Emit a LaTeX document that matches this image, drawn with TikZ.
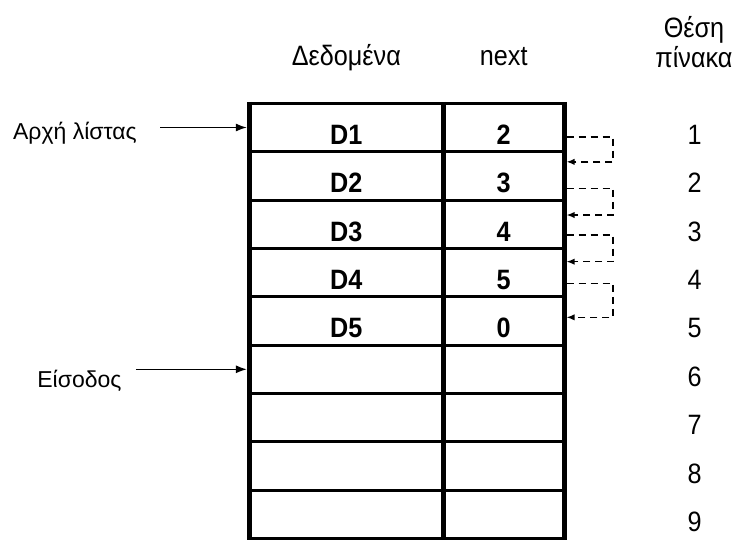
\documentclass[tikz,border=0pt]{standalone}
\usepackage{fontspec}
\setmainfont{Liberation Sans}[FakeStretch=0.9]
\newfontfamily\lblfont{Liberation Sans}
\usetikzlibrary{arrows.meta}
\tikzset{cell/.style={draw, line width=1.5pt, inner sep=0pt, outer sep=0pt, minimum height=24.18pt, text height=17pt, text depth=0pt, font=\fontsize{14}{15}\selectfont\bfseries},
  rownum/.style={inner sep=0pt, text height=17pt, text depth=0pt, font=\fontsize{14}{15}\selectfont},
  hdr/.style={inner sep=0pt, font=\fontsize{14}{15}\selectfont},
  lbl/.style={inner sep=0pt, font=\lblfont\fontsize{11.5}{13}\selectfont},
  ptr/.style={-{Latex[length=5.5pt,width=4pt]}, line width=0.75pt, shorten >=1.2pt},
  nextptr/.style={-{Latex[length=4pt,width=3.2pt]}, line width=0.7pt, dash pattern=on 3.5pt off 2.5pt, shorten <=1.2pt, shorten >=1.2pt},
  colline/.style={line width=2.4pt, shorten <=-0.75pt, shorten >=-0.75pt}}

\begin{document}
\begin{tikzpicture}[x=0.5pt, y=-0.5pt]
\useasboundingbox (0,0) rectangle (735,540);
% table rows: data / next / position
\foreach \i/\d/\n in {1/D1/2, 2/D2/3, 3/D3/4, 4/D4/5, 5/D5/0, 6//, 7//, 8//, 9//} {
  \node[cell, minimum width=97pt] (d\i) at (346.3, 79.14+48.36*\i) {\d};
  \node[cell, minimum width=60.45pt] (n\i) at (503.75, 79.14+48.36*\i) {\n};
  \node[rownum] (p\i) at ([xshift=95.4pt]n\i.center) {\i};
}
\draw[colline] (d1.north west) -- (d9.south west);
\draw[colline] (d1.north east) -- (d9.south east);
\draw[colline] (n1.north east) -- (n9.south east);
% headers
\node[hdr, anchor=base] (hdata) at ([yshift=19.15pt]d1.north) {Δεδομένα};
\node[hdr, anchor=base] (hnext) at ([yshift=19.15pt]n1.north) {next};
\node[hdr, align=center, anchor=base] (hpos) at (694, 68) {Θέση\\πίνακα};
% pointers on the left
\node[lbl, anchor=base west] (head) at (12.7, 140) {Αρχή λίστας};
\node[lbl, anchor=base west] (free) at (37, 387) {Είσοδος};
\draw[ptr] ([xshift=11.5pt]head.east |- d1.west) -- (d1.west);
\draw[ptr] ([xshift=7pt]free.east |- d6.west) -- (d6.west);
% next links
\draw[nextptr] ([yshift=-4.75pt]n1.east) -- ++(24.4pt,0) |- ([yshift=7pt]n2.east);
\draw[nextptr] ([yshift=-6.2pt]n2.east) -- ++(24.4pt,0) |- ([yshift=4.6pt]n3.east);
\draw[nextptr] ([yshift=-5.4pt]n3.east) -- ++(24.4pt,0) |- ([yshift=5.45pt]n4.east);
\draw[nextptr] ([yshift=-5.35pt]n4.east) -- ++(24.4pt,0) |- ([yshift=1.8pt]n5.east);
\end{tikzpicture}
\end{document}
